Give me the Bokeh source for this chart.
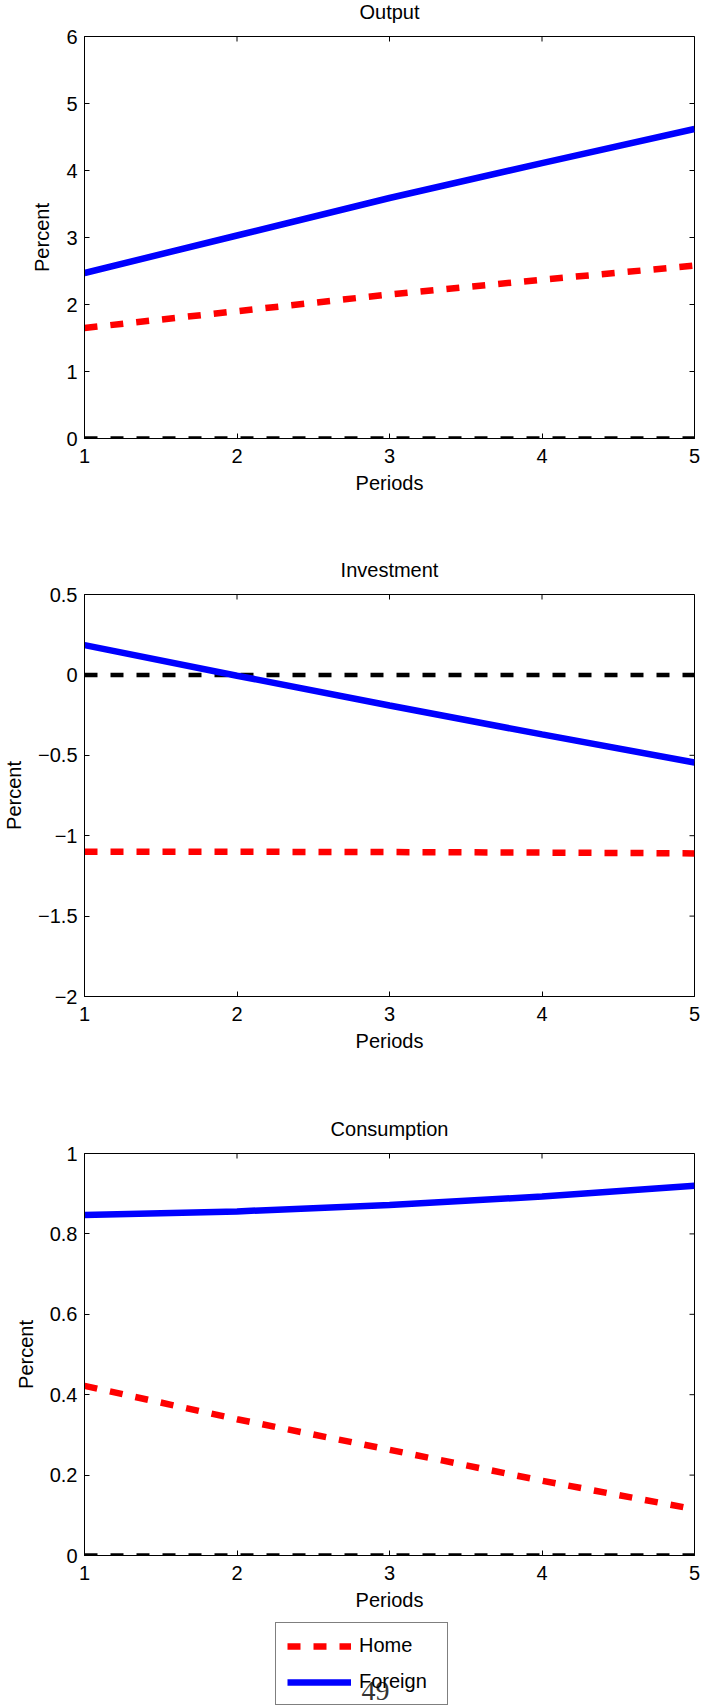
import math

from bokeh.plotting import figure
from bokeh.models import Range1d, FixedTicker, Legend, LegendItem, Label
from bokeh.layouts import column
from bokeh.embed import file_html
from bokeh.resources import INLINE

# Impulse responses over the first five periods (percent deviations)
periods = [1, 2, 3, 4, 5]
zero_line = [0, 0, 0, 0, 0]

output_home = [1.65, 1.90, 2.15, 2.37, 2.58]
output_foreign = [2.47, 3.03, 3.59, 4.11, 4.62]

invest_home = [-1.100, -1.100, -1.102, -1.105, -1.110]
invest_foreign = [0.185, -0.005, -0.190, -0.370, -0.545]

cons_home = [0.422, 0.339, 0.263, 0.186, 0.115]
cons_foreign = [0.847, 0.856, 0.872, 0.893, 0.920]

x_ticks = [1, 2, 3, 4, 5]
output_yticks = [0, 1, 2, 3, 4, 5, 6]
invest_yticks = [-2, -1.5, -1, -0.5, 0, 0.5]
cons_yticks = [0, 0.2, 0.4, 0.6, 0.8, 1]

FONT = "Liberation Sans"
FS = "20px"
HOME_COLOR = "#ff0000"
FOREIGN_COLOR = "#0000ff"
WIDTH = 701
LEFT, RIGHT, FRAME_W = 84, 7, 610


def tick_text(v):
    return f"{v:g}".replace("-", "\u2212")


def style_axis(ax):
    ax.major_tick_in = 5
    ax.major_tick_out = 0
    ax.minor_tick_line_color = None
    ax.axis_line_color = "black"
    ax.major_tick_line_color = "black"
    ax.major_label_text_font = FONT
    ax.major_label_text_font_size = FS
    ax.major_label_text_color = "black"
    ax.axis_label_text_font = FONT
    ax.axis_label_text_font_size = FS
    ax.axis_label_text_font_style = "normal"
    ax.axis_label_text_color = "black"


def title_strip(text, height=25):
    """A thin strip carrying a panel heading, centred over the plot box."""
    t = figure(width=WIDTH, height=height, min_border=0,
               min_border_left=LEFT, min_border_right=RIGHT,
               x_axis_location=None, y_axis_location=None,
               output_backend="svg", toolbar_location=None,
               background_fill_color="white", border_fill_color="white")
    t.grid.visible = False
    t.outline_line_color = None
    t.title.text = text
    t.title.align = "center"
    t.title.vertical_align = "top"
    t.title.text_font = FONT
    t.title.text_font_size = FS
    t.title.text_font_style = "normal"
    t.title.text_color = "black"
    t.title.standoff = 0
    return t


def make_panel(y_ticks, home, foreign, frame_h, bottom):
    x_lo, x_hi = x_ticks[0], x_ticks[-1]
    y_lo, y_hi = y_ticks[0], y_ticks[-1]
    p = figure(frame_width=FRAME_W, frame_height=frame_h,
               min_border_left=LEFT, min_border_right=RIGHT,
               min_border_top=11, min_border_bottom=bottom,
               x_range=Range1d(x_lo, x_hi), y_range=Range1d(y_lo, y_hi),
               output_backend="svg", toolbar_location=None,
               background_fill_color="white", border_fill_color="white")
    p.grid.visible = False
    p.outline_line_color = "black"
    p.outline_line_width = 1

    xa = p.xaxis[0]
    xa.ticker = FixedTicker(ticks=x_ticks)
    xa.axis_label = "Periods"
    style_axis(xa)
    xa.major_label_standoff = 10
    xa.axis_label_standoff = 6

    ya = p.yaxis[0]
    ya.ticker = FixedTicker(ticks=y_ticks)
    ya.major_label_overrides = {t: tick_text(t) for t in y_ticks}
    ya.axis_label = "Percent"
    style_axis(ya)
    ya.major_label_standoff = 7
    ya.axis_label_standoff = 10

    # inward tick marks on the right and top edges of the box
    p.scatter([x_hi] * len(y_ticks), y_ticks, marker="dash", size=10,
              line_color="black", line_width=1)
    p.scatter(x_ticks, [y_hi] * len(x_ticks), marker="dash", size=10,
              angle=math.pi / 2, line_color="black", line_width=1)

    p.line(periods, zero_line, line_color="black", line_width=4.5,
           line_dash="13 13", line_cap="butt")
    p.line(periods, home, line_color=HOME_COLOR, line_width=6.5,
           line_dash="13 13", line_cap="butt")
    p.line(periods, foreign, line_color=FOREIGN_COLOR,
           line_width=6.5, line_cap="butt")
    return p


t1 = title_strip("Output")
p1 = make_panel(output_yticks, output_home, output_foreign, 402, 120)
t2 = title_strip("Investment")
p2 = make_panel(invest_yticks, invest_home, invest_foreign, 402, 121)
t3 = title_strip("Consumption")
p3 = make_panel(cons_yticks, cons_home, cons_foreign, 402, 64)

# strip at the bottom of the page holding the legend and the page number
key = figure(frame_width=WIDTH, frame_height=87, min_border=0,
             x_range=Range1d(0, 1), y_range=Range1d(0, 1),
             x_axis_location=None, y_axis_location=None,
             output_backend="svg", toolbar_location=None,
             background_fill_color="white", border_fill_color="white")
key.grid.visible = False
key.outline_line_color = None
nan = float("nan")
home_key = key.line(x=[nan], y=[nan], line_color=HOME_COLOR, line_width=6.5,
                    line_dash="13 13", line_cap="butt")
foreign_key = key.line(x=[nan], y=[nan], line_color=FOREIGN_COLOR,
                       line_width=6.5, line_cap="butt")

legend = Legend(items=[LegendItem(label="Home", renderers=[home_key]),
                       LegendItem(label="Foreign", renderers=[foreign_key])],
                location=(275, 1), orientation="vertical",
                glyph_width=64, glyph_height=18, label_height=18,
                label_width=77, label_standoff=8, spacing=13, padding=11,
                margin=0,
                label_text_font=FONT, label_text_font_size=FS,
                label_text_color="black",
                border_line_color="black", border_line_width=1,
                background_fill_alpha=0.0)
key.add_layout(legend)

page_no = Label(x=291, y=16, x_units="screen", y_units="screen", text="49",
                text_font="Liberation Serif", text_font_size="28px",
                text_color="#333333", text_align="center",
                text_baseline="alphabetic", level="overlay")
key.add_layout(page_no)

layout = column(t1, p1, t2, p2, t3, p3, key, spacing=0)

with open("out.html", "w") as f:
    f.write(file_html(layout, INLINE))
